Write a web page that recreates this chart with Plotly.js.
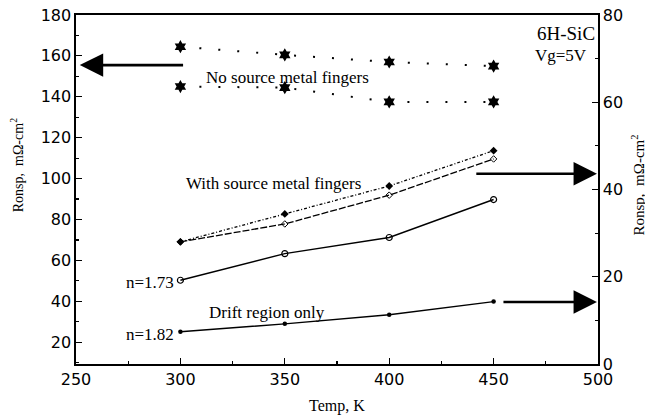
<!DOCTYPE html>
<html>
<head>
<meta charset="utf-8">
<script src="https://cdn.plot.ly/plotly-3.0.1.min.js"></script>
<style>
  html, body { margin: 0; padding: 0; background: #fff; }
  #chart { width: 645px; height: 420px; }
</style>
</head>
<body>
<div id="chart"></div>
<script>
// Temperature points (K)
const temps = [300, 350, 400, 450];

// No source metal fingers (left axis, mΩ-cm²)
const noFingersUpper = [164.5, 160.5, 157, 155];
const noFingersLower = [145, 144.5, 137.5, 137.5];

// With source metal fingers (right axis, mΩ-cm²)
const withFingersA = [28, 34.4, 40.8, 48.9];
const withFingersB = [28, 32.1, 38.7, 47];
const withFingersFit = [19.2, 25.3, 29, 37.7];

// Drift region only (right axis, mΩ-cm²)
const driftOnly = [7.4, 9.2, 11.3, 14.3];

const leftTicks = [20, 40, 60, 80, 100, 120, 140, 160, 180];
const rightTicks = [0, 20, 40, 60, 80];
const xTicks = [250, 300, 350, 400, 450, 500];

const serif = "Liberation Serif, Times New Roman, serif";
const sans = "DejaVu Sans, sans-serif";

const traces = [
  {
    x: temps, y: noFingersUpper, yaxis: "y", mode: "lines+markers",
    line: { color: "#000", width: 2, dash: "2px,17px" },
    marker: { symbol: "hexagram", size: 10, color: "#000" }
  },
  {
    x: temps, y: noFingersLower, yaxis: "y", mode: "lines+markers",
    line: { color: "#000", width: 2, dash: "2px,17px" },
    marker: { symbol: "hexagram", size: 10, color: "#000" }
  },
  {
    x: temps, y: withFingersA, yaxis: "y2", mode: "lines+markers",
    line: { color: "#000", width: 1.3, dash: "3px,2px,1px,2px" },
    marker: { symbol: "diamond", size: 6, color: "#000" }
  },
  {
    x: temps, y: withFingersB, yaxis: "y2", mode: "lines+markers",
    line: { color: "#000", width: 1.3, dash: "7px,2px" },
    marker: { symbol: "diamond-open", size: 5, color: "#000", line: { width: 1 } }
  },
  {
    x: temps, y: withFingersFit, yaxis: "y2", mode: "lines+markers",
    line: { color: "#000", width: 1.4 },
    marker: { symbol: "circle-open", size: 6, color: "#000", line: { width: 1.2 } }
  },
  {
    x: temps, y: driftOnly, yaxis: "y2", mode: "lines+markers",
    line: { color: "#000", width: 1.4 },
    marker: { symbol: "circle", size: 4.5, color: "#000" }
  }
];

const arrow = (x, y, ax, ay, yref) => ({
  x: x, y: y, ax: ax, ay: ay, xref: "x", yref: yref, axref: "x", ayref: yref,
  text: "", showarrow: true, arrowhead: 2, arrowsize: 1.8, arrowwidth: 2.6,
  arrowcolor: "#000"
});

const label = (text, x, y, yref, opts) => Object.assign({
  text: text, x: x, y: y, xref: "x", yref: yref, showarrow: false,
  font: { family: serif, size: 17, color: "#000" }
}, opts || {});

const layout = {
  width: 645, height: 420,
  margin: { l: 76, r: 47, t: 15, b: 56 },
  paper_bgcolor: "#fff", plot_bgcolor: "#fff",
  showlegend: false,
  xaxis: {
    range: [250, 500], tickvals: xTicks, ticks: "inside", ticklen: 6,
    tickwidth: 1.2, tickcolor: "#000",
    minor: { dtick: 25, ticks: "inside", ticklen: 3, tickcolor: "#000" },
    showline: true, linewidth: 1.6, linecolor: "#000", mirror: true,
    showgrid: false, zeroline: false,
    tickfont: { family: sans, size: 16, color: "#000" },
    title: { text: "Temp, K", font: { family: serif, size: 16, color: "#000" }, standoff: 12 }
  },
  yaxis: {
    range: [9.3, 180], tickvals: leftTicks, ticks: "inside", ticklen: 6,
    tickwidth: 1.2, tickcolor: "#000",
    minor: { dtick: 10, ticks: "inside", ticklen: 3, tickcolor: "#000" },
    showline: true, linewidth: 1.6, linecolor: "#000",
    showgrid: false, zeroline: false,
    tickfont: { family: sans, size: 16, color: "#000" }
  },
  yaxis2: {
    range: [0, 80], tickvals: rightTicks, overlaying: "y", side: "right",
    ticks: "inside", ticklen: 6, tickwidth: 1.2, tickcolor: "#000",
    minor: { dtick: 10, ticks: "inside", ticklen: 3, tickcolor: "#000" },
    showline: true, linewidth: 1.6, linecolor: "#000",
    showgrid: false, zeroline: false,
    tickfont: { family: sans, size: 16, color: "#000" }
  },
  annotations: [
    arrow(251.8, 155.5, 302, 155.5, "y"),
    arrow(499.5, 43.6, 441, 43.6, "y2"),
    arrow(499.5, 14.2, 454, 14.2, "y2"),
    label("No source metal fingers", 351.5, 149.2, "y"),
    label("With source metal fingers", 344.6, 97.8, "y"),
    label("Drift region only", 341.7, 11.7, "y2"),
    label("n=1.73", 298, withFingersFit[0], "y2", { xanchor: "right", yshift: -2 }),
    label("n=1.82", 298, driftOnly[0], "y2", { xanchor: "right", yshift: -3 }),
    {
      text: "6H-SiC", x: 0.998, y: 0.948, xref: "paper", yref: "paper",
      xanchor: "right", yanchor: "middle", showarrow: false,
      font: { family: serif, size: 19, color: "#000" }
    },
    {
      text: "Vg=5V", x: 0.983, y: 0.885, xref: "paper", yref: "paper",
      xanchor: "right", yanchor: "middle", showarrow: false,
      font: { family: serif, size: 17, color: "#000" }
    },
    {
      text: "Ronsp,  mΩ-cm<sup>2</sup>", x: -0.114, y: 0.571,
      xref: "paper", yref: "paper", xanchor: "center", yanchor: "middle",
      textangle: -90, showarrow: false,
      font: { family: serif, size: 14, color: "#000" }
    },
    {
      text: "Ronsp,  mΩ-cm<sup>2</sup>", x: 1.077, y: 0.512,
      xref: "paper", yref: "paper", xanchor: "center", yanchor: "middle",
      textangle: -90, showarrow: false,
      font: { family: serif, size: 15, color: "#000" }
    }
  ]
};

Plotly.newPlot("chart", traces, layout, { displayModeBar: false, staticPlot: true });
</script>
</body>
</html>
